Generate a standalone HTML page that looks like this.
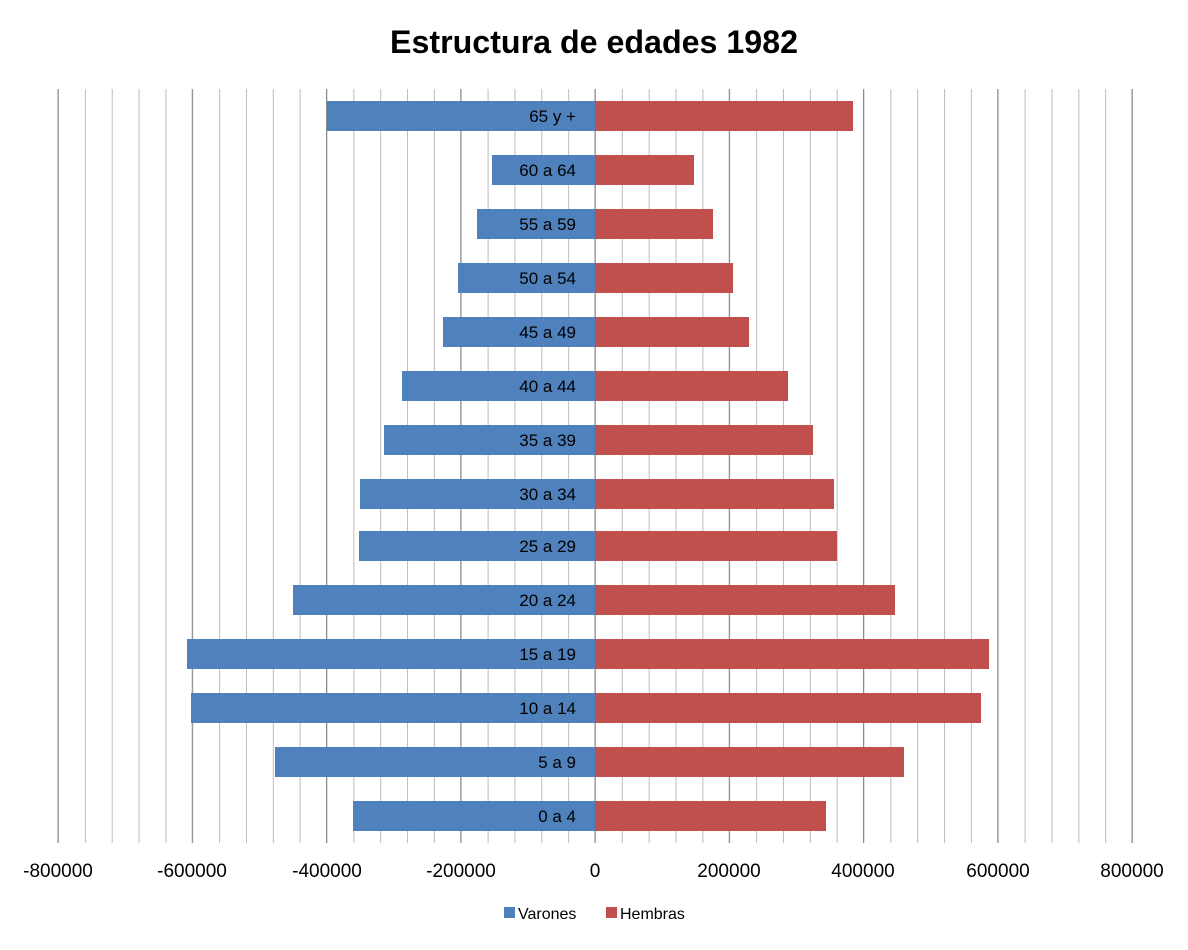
<!DOCTYPE html>
<html><head><meta charset="utf-8"><style>
body{margin:0;background:#fff}
svg text{font-family:"Liberation Sans",sans-serif}
</style></head><body>
<svg width="1188" height="945" viewBox="0 0 1188 945" xmlns="http://www.w3.org/2000/svg">
<defs>
<pattern id="g" x="58" y="0" width="26.85" height="945" patternUnits="userSpaceOnUse">
<rect x="0" y="0" width="1" height="945" fill="#bdbdbd"/>
</pattern>
</defs>
<rect x="0" y="0" width="1188" height="945" fill="#fff"/>
<text x="594" y="53" text-anchor="middle" font-size="32" font-weight="bold" fill="#000" textLength="408" lengthAdjust="spacingAndGlyphs">Estructura de edades 1982</text>
<rect x="57.5" y="89" width="1076" height="754" fill="url(#g)"/>
<g fill="#8a8a8a">
<rect x="57.5" y="89" width="1" height="754"/>
<rect x="191.75" y="89" width="1" height="754"/>
<rect x="326" y="89" width="1" height="754"/>
<rect x="460.25" y="89" width="1" height="754"/>
<rect x="594.5" y="89" width="1" height="754"/>
<rect x="728.75" y="89" width="1" height="754"/>
<rect x="863" y="89" width="1" height="754"/>
<rect x="997.25" y="89" width="1" height="754"/>
<rect x="1131.5" y="89" width="1" height="754"/>
</g>
<g fill="#4f81bd">
<rect x="327" y="101" width="268" height="30"/>
<rect x="492" y="155" width="103" height="30"/>
<rect x="477" y="209" width="118" height="30"/>
<rect x="458" y="263" width="137" height="30"/>
<rect x="443" y="317" width="152" height="30"/>
<rect x="402" y="371" width="193" height="30"/>
<rect x="384" y="425" width="211" height="30"/>
<rect x="360" y="479" width="235" height="30"/>
<rect x="359" y="531" width="236" height="30"/>
<rect x="293" y="585" width="302" height="30"/>
<rect x="187" y="639" width="408" height="30"/>
<rect x="191" y="693" width="404" height="30"/>
<rect x="275" y="747" width="320" height="30"/>
<rect x="353" y="801" width="242" height="30"/>
</g>
<g fill="#c0504d">
<rect x="595" y="101" width="258" height="30"/>
<rect x="595" y="155" width="99" height="30"/>
<rect x="595" y="209" width="118" height="30"/>
<rect x="595" y="263" width="138" height="30"/>
<rect x="595" y="317" width="154" height="30"/>
<rect x="595" y="371" width="193" height="30"/>
<rect x="595" y="425" width="218" height="30"/>
<rect x="595" y="479" width="239" height="30"/>
<rect x="595" y="531" width="242" height="30"/>
<rect x="595" y="585" width="300" height="30"/>
<rect x="595" y="639" width="394" height="30"/>
<rect x="595" y="693" width="386" height="30"/>
<rect x="595" y="747" width="309" height="30"/>
<rect x="595" y="801" width="231" height="30"/>
</g>
<g font-size="17" fill="#000" text-anchor="end">
<text x="576" y="122">65 y +</text>
<text x="576" y="176">60 a 64</text>
<text x="576" y="230">55 a 59</text>
<text x="576" y="284">50 a 54</text>
<text x="576" y="338">45 a 49</text>
<text x="576" y="392">40 a 44</text>
<text x="576" y="446">35 a 39</text>
<text x="576" y="500">30 a 34</text>
<text x="576" y="552">25 a 29</text>
<text x="576" y="606">20 a 24</text>
<text x="576" y="660">15 a 19</text>
<text x="576" y="714">10 a 14</text>
<text x="576" y="768">5 a 9</text>
<text x="576" y="822">0 a 4</text>
</g>
<g font-size="19" fill="#000" text-anchor="middle">
<text x="58" y="877">-800000</text>
<text x="192" y="877">-600000</text>
<text x="327" y="877">-400000</text>
<text x="461" y="877">-200000</text>
<text x="595" y="877">0</text>
<text x="729" y="877">200000</text>
<text x="863" y="877">400000</text>
<text x="998" y="877">600000</text>
<text x="1132" y="877">800000</text>
</g>
<rect x="504" y="907" width="11" height="11" fill="#4f81bd"/>
<text x="518" y="919" font-size="16">Varones</text>
<rect x="606" y="907" width="11" height="11" fill="#c0504d"/>
<text x="620" y="919" font-size="16">Hembras</text>
</svg>
</body></html>
